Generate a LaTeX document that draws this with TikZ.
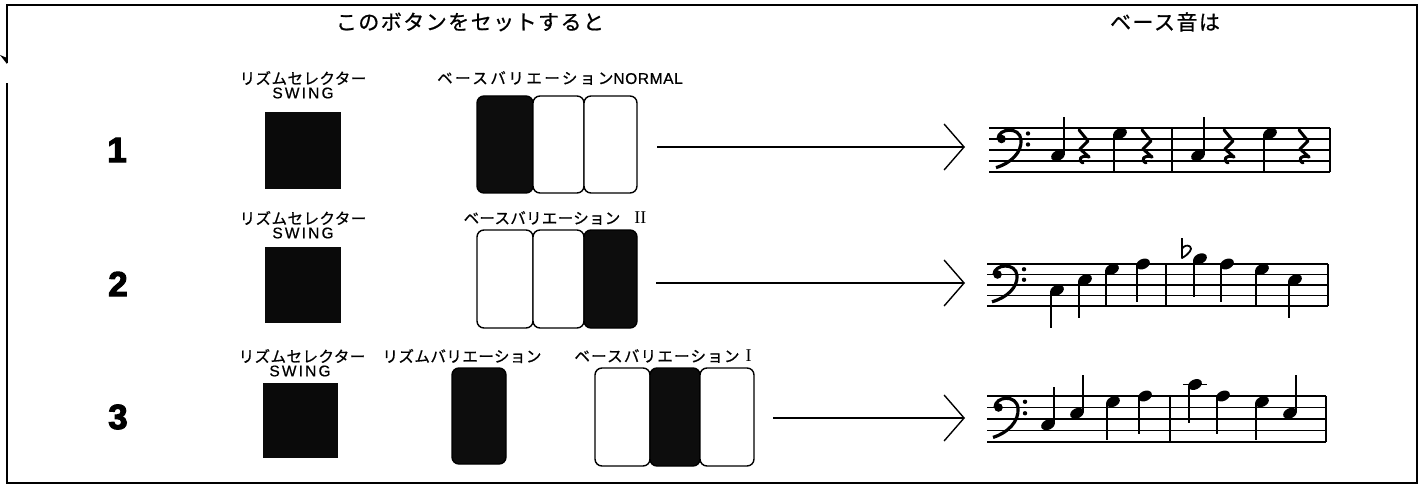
\documentclass[tikz,border=0pt]{standalone}
\usepackage{fontspec}
\setmainfont{Liberation Sans}
\newfontfamily\jp[FakeBold=0.8]{Noto Sans CJK JP}
\newfontfamily\latf[FakeBold=0.6]{Liberation Sans}
\newfontfamily\serifR{Liberation Serif}
\newfontfamily\numf[FakeBold=3]{Liberation Sans}
\usetikzlibrary{arrows.meta}
\newcommand\jsp[2]{{\addfontfeatures{LetterSpace=#1}#2}}
\newcommand\staffdraw[4]{\foreach \i in {0,...,4} \draw[staffline] ({#1},{#3+\i*#4}) -- ({#2},{#3+\i*#4});}
\newcommand\nhead[2]{\fill[rotate around={25:(#1,#2)}] (#1,#2) ellipse [x radius=7.2, y radius=5];}
\newcommand\nup[2]{\nhead{#1}{#2}\draw[stem] ({#1+6.3},{#2-1}) -- ({#1+6.3},{#2-38});}
\newcommand\ndn[2]{\nhead{#1}{#2}\draw[stem] ({#1-6.3},{#2+1}) -- ({#1-6.3},{#2+38});}
\newcommand\qrest[2]{\draw[rest] ({#1+4},{#2}) -- ({#1+13},{#2+11}) -- ({#1+5},{#2+19}) -- ({#1+14},{#2+27});
  \draw[rest] ({#1+14},{#2+27}) .. controls ({#1+6},{#2+24}) and ({#1+2},{#2+30}) .. ({#1+8},{#2+33});}
\newcommand\fclef[3]{\fill ({#1+4.5},{#2+#3}) circle (4.3);
  \draw[line width=3.2pt] ({#1+1},{#2+#3}) .. controls ({#1+1},{#2}) and ({#1+23},{#2-2}) .. ({#1+24},{#2+#3+1}) .. controls ({#1+25},{#2+2.2*#3}) and ({#1+14},{#2+3.2*#3}) .. ({#1-1},{#2+3.6*#3});
  \fill ({#1+31},{#2+0.5*#3}) circle (2.2); \fill ({#1+31},{#2+1.5*#3}) circle (2.2);}
\begin{document}
\begin{tikzpicture}[x=1pt,y=-1pt,
  btn/.style={draw=black, line width=1.4pt, rounded corners=7pt, inner sep=0pt, rectangle},
  on/.style={btn, fill=black!95},
  off/.style={btn, fill=white},
  sq/.style={fill=black!96, inner sep=0pt, draw=none, rectangle},
  lbl/.style={inner sep=0pt, font=\fontsize{15.5}{17}\jp},
  sw/.style={inner sep=0pt, font=\fontsize{15.5}{17}\latf\addfontfeatures{LetterSpace=14}},
  hd/.style={inner sep=0pt, font=\fontsize{21}{24}\jp\addfontfeatures{LetterSpace=7}},
  num/.style={inner sep=0pt, font=\fontsize{35}{38}\numf\bfseries},
  arr/.style={line width=1.4pt, -{Straight Barb[length=20pt,width=46pt,line width=1.4pt]}},
  staffline/.style={line width=1.2pt},
  stem/.style={line width=1.7pt},
  rest/.style={line width=3pt, line join=round, line cap=round},
]
\useasboundingbox (0,0) rectangle (1423,489);
% frame
\draw[line width=1.5pt] (7,63) -- (7,5) -- (1417,5) -- (1417,483) -- (7,483) -- (7,83);
\fill (0,55) -- (7,58) -- (7,64) -- cycle;
% header
\node[hd] (h1) at (470,22) {このボタンをセットすると};
\node[hd] (h2) at (1165,22) {ベース音は};
% numbers
\node[num] (n1) at (117,150) {1};
\node[num] (n2) at (118,284) {2};
\node[num] (n3) at (118,417) {3};
% row 1
\node[lbl] (l1a) at (303,78) {\jsp{3}{リズムセレクター}};
\node[sw] (s1) at (303,93) {SWING};
\node[sq, minimum width=76pt, minimum height=77pt] (sq1) at (303,150.5) {};
\node[lbl] (l1b) at (560,78) {\jsp{16}{ベースバリエーション}{\latf\fontsize{15.5}{17}\selectfont\addfontfeatures{LetterSpace=4}NORMAL}};
\node[on, minimum width=56pt, minimum height=97pt] (b1a) at (505,144.5) {};
\node[off, minimum width=51pt, minimum height=97pt] (b1b) at (558.5,144.5) {};
\node[off, minimum width=53pt, minimum height=97pt] (b1c) at (610.5,144.5) {};
\coordinate (r1a) at (657,147); \coordinate (r1b) at (965,147);
\draw[arr] (r1a) -- (r1b);
% row 2
\node[lbl] (l2a) at (303,218) {\jsp{3}{リズムセレクター}};
\node[sw] (s2) at (303,233) {SWING};
\node[sq, minimum width=76pt, minimum height=76pt] (sq2) at (303,285) {};
\node[lbl] (l2b) at (555,218) {\jsp{2}{ベースバリエーション}\hspace{14pt}{\serifR\fontsize{18}{20}\selectfont II}};
\node[off, minimum width=56pt, minimum height=98pt] (b2a) at (505,279) {};
\node[off, minimum width=51pt, minimum height=98pt] (b2b) at (558.5,279) {};
\node[on, minimum width=53pt, minimum height=98pt] (b2c) at (610.5,279) {};
\coordinate (r2a) at (656,283); \coordinate (r2b) at (965,283);
\draw[arr] (r2a) -- (r2b);
% row 3
\node[lbl] (l3a) at (302,356) {\jsp{3}{リズムセレクター}};
\node[sw] (s3) at (300,371) {SWING};
\node[sq, minimum width=75pt, minimum height=75pt] (sq3) at (300.5,420.5) {};
\node[lbl] (l3b) at (462,356) {\jsp{3}{リズムバリエーション}};
\node[on, minimum width=54pt, minimum height=96pt] (rv) at (479,416) {};
\node[lbl] (l3c) at (663,356) {\jsp{8}{ベースバリエーション}\hspace{6pt}{\serifR\fontsize{18}{20}\selectfont I}};
\node[off, minimum width=55pt, minimum height=98pt] (b3a) at (622.5,417) {};
\node[on, minimum width=50pt, minimum height=98pt] (b3b) at (675,417) {};
\node[off, minimum width=54pt, minimum height=98pt] (b3c) at (727,417) {};
\coordinate (r3a) at (773,418); \coordinate (r3b) at (965,418);
\draw[arr] (r3a) -- (r3b);
% staff 1
\staffdraw{989}{1330}{128}{11}
\fclef{997}{128}{11}
\nup{1058}{155.5}
\qrest{1075}{130}
\ndn{1120}{133.5}
\qrest{1138}{130}
\draw[staffline] (1172,128) -- (1172,172);
\nup{1198}{155.5}
\qrest{1220}{130}
\ndn{1270}{133.5}
\qrest{1295}{130}
\draw[staffline] (1330,128) -- (1330,172);
% staff 2
\staffdraw{987}{1328}{264}{10.5}
\fclef{993}{264}{10.5}
\ndn{1057}{290.25}
\ndn{1085}{279.75}
\ndn{1112}{269.25}
\ndn{1143}{264}
\draw[staffline] (1166,264) -- (1166,306);
% flat sign
\draw[line width=1.8pt, line join=round] (1182,238) -- (1182,258) .. controls (1189,254) and (1193,249) .. (1190,246.5) .. controls (1187,244.5) and (1184,246) .. (1182,248.5);
\ndn{1200}{258.75}
\ndn{1227}{264}
\ndn{1262}{269.25}
\ndn{1295}{279.75}
\draw[staffline] (1328,264) -- (1328,306);
% staff 3
\staffdraw{987}{1326}{396}{11.5}
\fclef{994}{396}{11.5}
\nup{1048}{424.75}
\nup{1077}{413.25}
\ndn{1113}{401.75}
\ndn{1145}{396}
\draw[staffline] (1170,396) -- (1170,442);
\draw[staffline] (1183,384.5) -- (1207,384.5);
\ndn{1195}{384.5}
\ndn{1223}{396}
\ndn{1262}{401.75}
\nup{1290}{413.25}
\draw[staffline] (1326,396) -- (1326,442);
\end{tikzpicture}
\end{document}
